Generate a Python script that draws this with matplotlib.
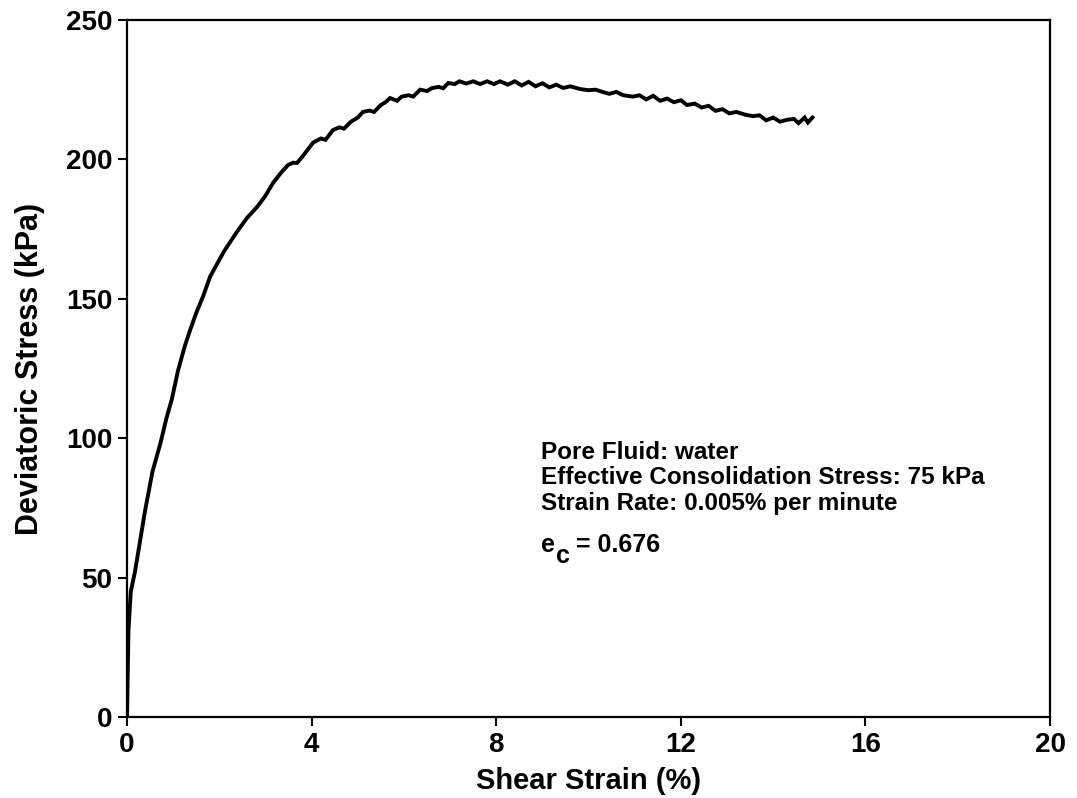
import matplotlib
matplotlib.use("Agg")
import matplotlib.pyplot as plt
import numpy as np

# shear strain (%) and deviatoric stress (kPa)
strain = [0.00, 0.01, 0.03, 0.08, 0.17, 0.25, 0.39, 0.55, 0.72, 0.85, 0.97,
          1.10, 1.25, 1.37, 1.50, 1.65, 1.80, 1.90, 2.10, 2.38, 2.60, 2.82,
          3.00, 3.16, 3.35, 3.49, 3.60, 3.68, 3.80, 4.03, 4.20, 4.30, 4.46,
          4.60, 4.70, 4.85, 5.00, 5.11, 5.25, 5.35, 5.50, 5.60, 5.70, 5.85,
          5.95, 6.10, 6.20, 6.35, 6.50, 6.60, 6.75, 6.85, 6.96, 7.10, 7.20,
          7.35, 7.50, 7.65, 7.80, 7.95, 8.08, 8.25, 8.40, 8.55, 8.70, 8.85,
          9.00, 9.15, 9.30, 9.45, 9.60, 9.82, 10.00, 10.15, 10.30, 10.45,
          10.60, 10.75, 10.96, 11.10, 11.25, 11.40, 11.55, 11.70, 11.85,
          12.00, 12.13, 12.30, 12.45, 12.60, 12.75, 12.90, 13.05, 13.20,
          13.40, 13.56, 13.70, 13.85, 14.00, 14.15, 14.30, 14.45, 14.55,
          14.68, 14.75, 14.85]
stress = [0, 12, 31, 45, 52, 60, 74, 88, 98, 107, 114,
          124, 133, 139, 145, 151, 158, 161, 167, 174, 179, 183,
          187, 191.5, 195.5, 198, 198.8, 198.7, 201, 206, 207.5, 207, 210.5,
          211.5, 211, 213.5, 215, 217, 217.5, 217, 219.5, 220.5, 222, 221,
          222.5, 223, 222.5, 225, 224.5, 225.5, 226, 225.5, 227.4, 227.0, 228,
          227.2, 228, 227.0, 228, 227, 228, 226.8, 228, 226.5, 227.8, 226.2,
          227.3, 225.8, 226.8, 225.6, 226.2, 225.2, 224.8, 225.0, 224.2, 223.5,
          224.2, 223.0, 222.5, 223.0, 221.5, 222.8, 221.0, 221.8, 220.5,
          221.2, 219.5, 220.0, 218.6, 219.2, 217.4, 218.0, 216.5, 217.0,
          216.0, 215.5, 215.8, 214.0, 215.0, 213.5, 214.2, 214.5, 213.0,
          215.0, 213.2, 215.0]

x_ticks = [0, 4, 8, 12, 16, 20]
y_ticks = [0, 50, 100, 150, 200, 250]

notes = ["Pore Fluid: water",
         "Effective Consolidation Stress: 75 kPa",
         "Strain Rate: 0.005% per minute"]
void_ratio = 0.676

plt.rcParams['font.family'] = ['Liberation Sans', 'DejaVu Sans']
plt.rcParams['font.weight'] = 'bold'

fig = plt.figure(figsize=(10.77, 7.98), dpi=100)
ax = fig.add_axes([0.118, 0.1015, 0.857, 0.8735])

ax.plot(strain, stress, color='black', lw=2.8, solid_joinstyle='miter')

ax.set_xlim(0, 20)
ax.set_ylim(0, 250)
ax.set_xticks(x_ticks)
ax.set_yticks(y_ticks)
ax.tick_params(direction='out', length=6.5, width=1.5, labelsize=20)
ax.tick_params(axis='y', pad=4)
ax.tick_params(axis='x', pad=4)
for lbl in ax.get_xticklabels() + ax.get_yticklabels():
    lbl.set_fontweight('bold')
for sp in ax.spines.values():
    sp.set_linewidth(1.6)

ax.set_xlabel('Shear Strain (%)', fontsize=21, fontweight='bold', labelpad=7)
ax.set_ylabel('Deviatoric Stress (kPa)', fontsize=22, fontweight='bold', labelpad=15)

tx = 8.97
for i, line in enumerate(notes):
    ax.text(tx, 95.0 - i * 9.15, line, fontsize=17.5, fontweight='bold',
            va='center', ha='left')

# void ratio line: e with a dropped subscript c, then the value
base = 59.2
ax.text(tx, base, 'e', fontsize=18, fontweight='bold', va='baseline', ha='left')
ax.annotate('c', xy=(tx, base), xytext=(10.5, -8), textcoords='offset points',
            fontsize=18, fontweight='bold', va='baseline', ha='left')
ax.annotate('= %.3f' % void_ratio, xy=(tx, base), xytext=(25, 0),
            textcoords='offset points', fontsize=18, fontweight='bold',
            va='baseline', ha='left')

fig.savefig('out.png', dpi=100)
